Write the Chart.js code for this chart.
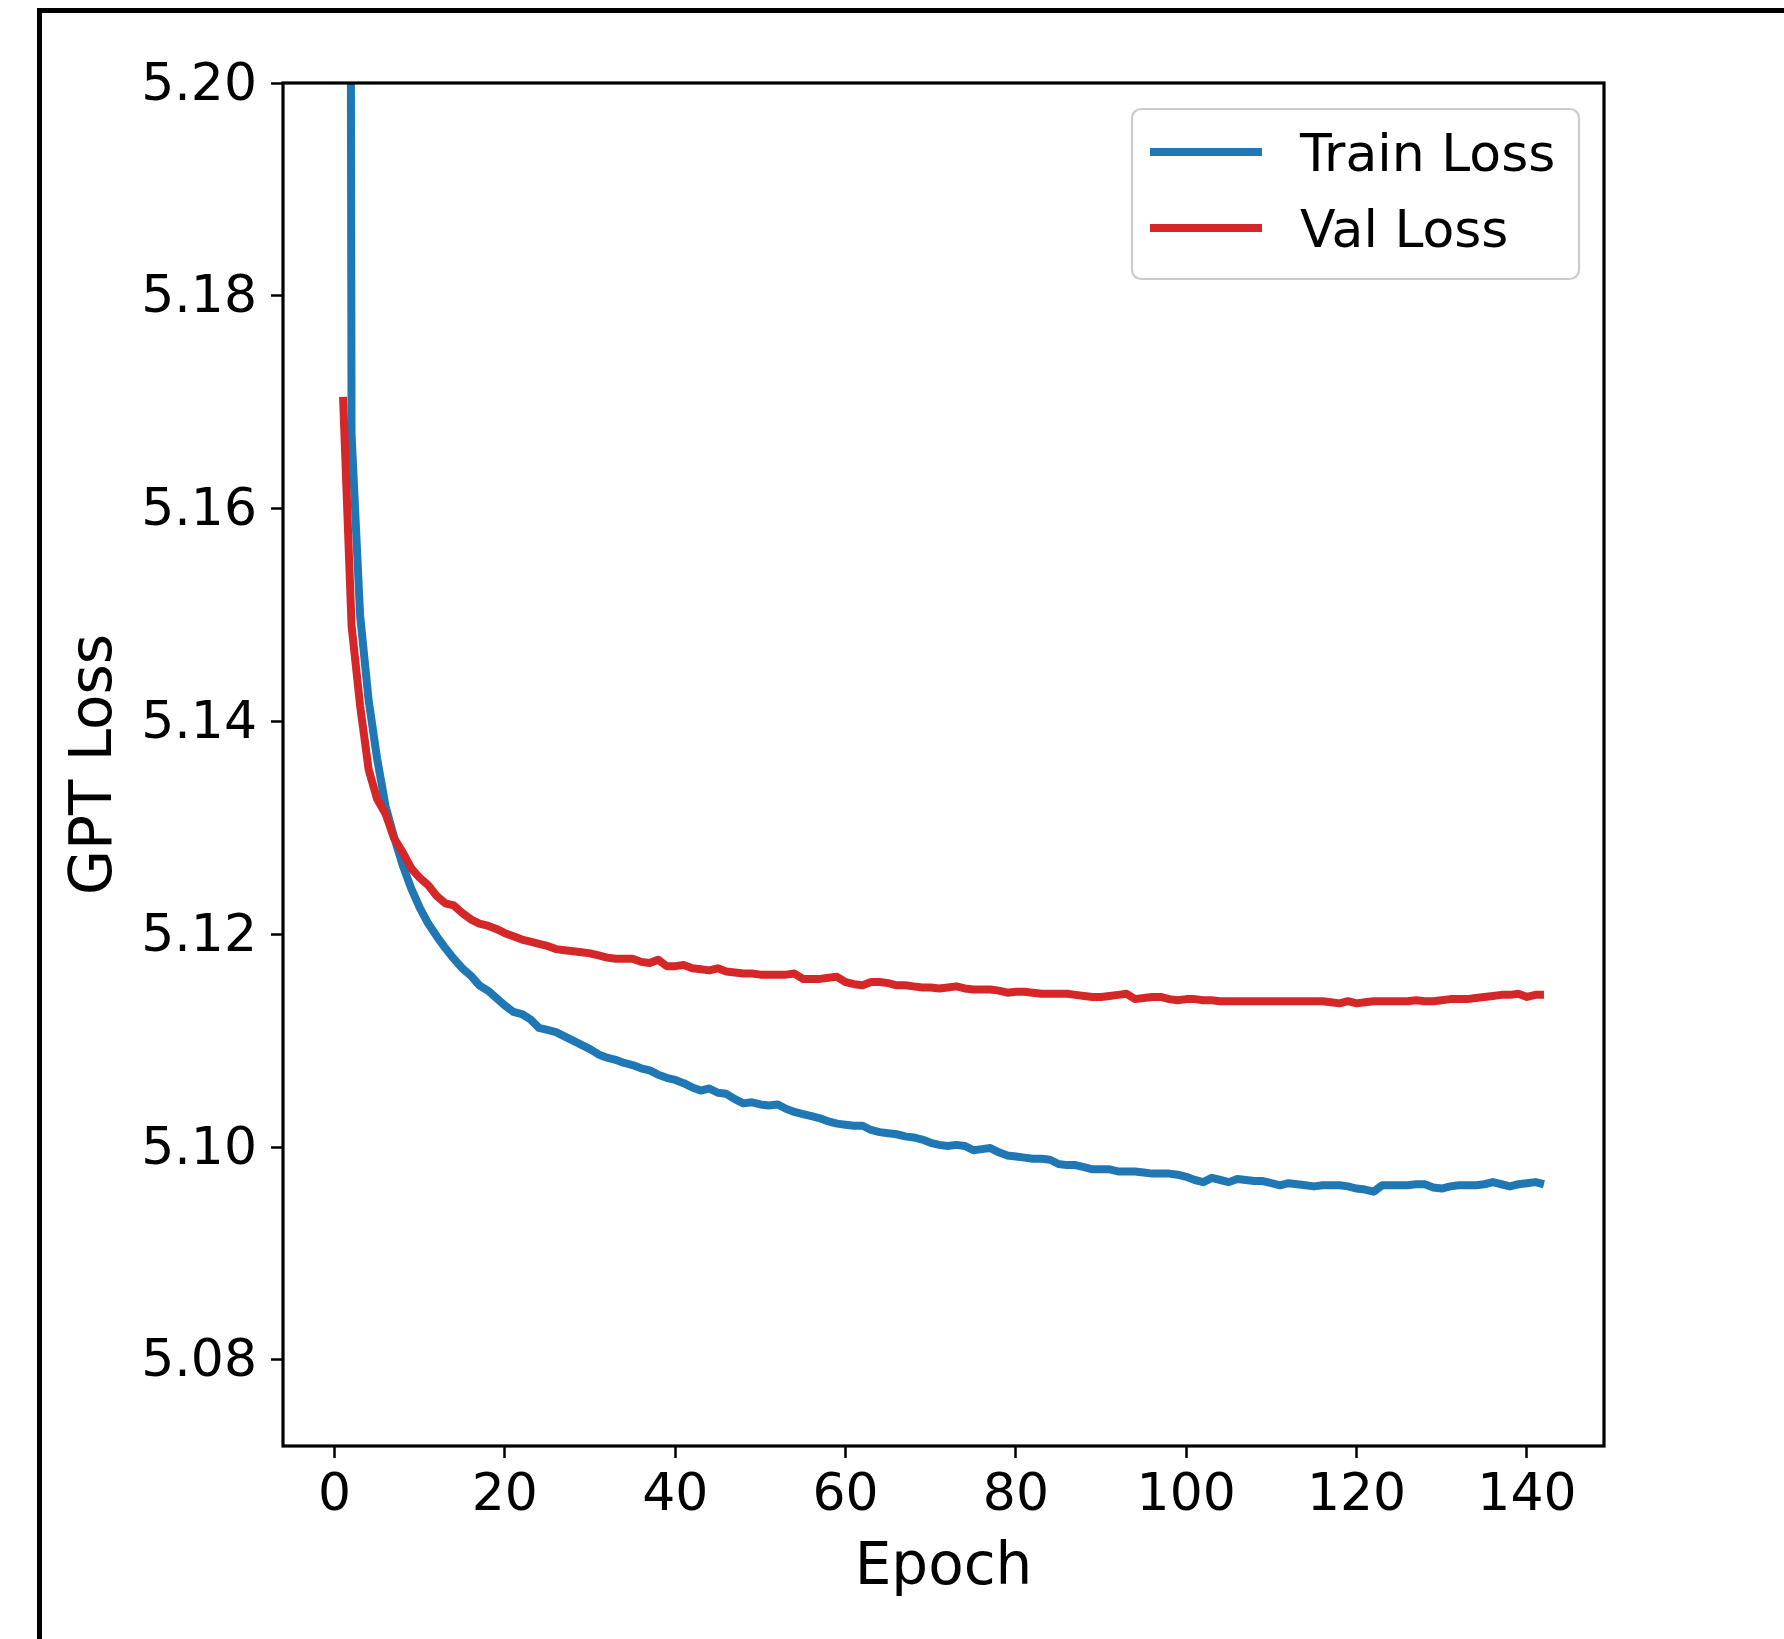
<!DOCTYPE html>
<html><head><meta charset="utf-8">
<script src="https://cdn.jsdelivr.net/npm/chart.js@4.4.1/dist/chart.umd.min.js"></script>
<style>
html,body{margin:0;padding:0;background:#fff;}
#wrap{position:relative;width:1784px;height:1639px;overflow:hidden;}
#frame{position:absolute;left:37px;top:8px;right:-20px;bottom:-20px;border-top:5px solid #000;border-left:5px solid #000;}
canvas{position:absolute;left:0;top:0;}
</style></head><body>
<div id="wrap"><div id="frame"></div><canvas id="c" width="1784" height="1639"></canvas></div>
<script>
const epochs = [1,2,3,4,5,6,7,8,9,10,11,12,13,14,15,16,17,18,19,20,21,22,23,24,25,26,27,28,29,30,
31,32,33,34,35,36,37,38,39,40,41,42,43,44,45,46,47,48,49,50,51,52,53,54,55,56,57,58,59,60,
61,62,63,64,65,66,67,68,69,70,71,72,73,74,75,76,77,78,79,80,81,82,83,84,85,86,87,88,89,90,
91,92,93,94,95,96,97,98,99,100,101,102,103,104,105,106,107,108,109,110,111,112,113,114,115,116,117,118,119,120,
121,122,123,124,125,126,127,128,129,130,131,132,133,134,135,136,137,138,139,140,141,142];

const trainLoss = [5.600,5.167,5.150,5.142,5.1365,5.1320,5.1291,5.1265,5.1243,5.1225,
5.1210,5.1198,5.1187,5.1177,5.1168,5.1161,5.1152,5.1147,5.1140,5.1133,
5.1127,5.1125,5.1120,5.1112,5.1110,5.1108,5.1104,5.1100,5.1096,5.1092,
5.1087,5.1084,5.1082,5.1079,5.1077,5.1074,5.1072,5.1068,5.1065,5.1063,
5.1060,5.1056,5.1053,5.1055,5.1051,5.1050,5.1045,5.1041,5.1042,5.1040,
5.1039,5.1040,5.1036,5.1033,5.1031,5.1029,5.1027,5.1024,5.1022,5.1021,
5.1020,5.1020,5.1016,5.1014,5.1013,5.1012,5.1010,5.1009,5.1007,5.1004,
5.1002,5.1001,5.1002,5.1001,5.0997,5.0998,5.0999,5.0995,5.0992,5.0991,
5.0990,5.0989,5.0989,5.0988,5.0984,5.0983,5.0983,5.0981,5.0979,5.0979,
5.0979,5.0977,5.0977,5.0977,5.0976,5.0975,5.0975,5.0975,5.0974,5.0972,
5.0969,5.0967,5.0971,5.0969,5.0967,5.0970,5.0969,5.0968,5.0968,5.0966,
5.0964,5.0966,5.0965,5.0964,5.0963,5.0964,5.0964,5.0964,5.0963,5.0961,
5.0960,5.0958,5.0964,5.0964,5.0964,5.0964,5.0965,5.0965,5.0962,5.0961,
5.0963,5.0964,5.0964,5.0964,5.0965,5.0967,5.0965,5.0963,5.0965,5.0966,
5.0967,5.0965];

const valLoss = [5.1705,5.1490,5.1415,5.1355,5.1327,5.1313,5.1290,5.1277,5.1262,5.1253,
5.1246,5.1236,5.1229,5.1227,5.1220,5.1214,5.1210,5.1208,5.1205,5.1201,
5.1198,5.1195,5.1193,5.1191,5.1189,5.1186,5.1185,5.1184,5.1183,5.1182,
5.1180,5.1178,5.1177,5.1177,5.1177,5.1174,5.1173,5.1176,5.1170,5.1170,
5.1171,5.1168,5.1167,5.1166,5.1168,5.1165,5.1164,5.1163,5.1163,5.1162,
5.1162,5.1162,5.1162,5.1163,5.1158,5.1158,5.1158,5.1159,5.1160,5.1155,
5.1153,5.1152,5.1155,5.1155,5.1154,5.1152,5.1152,5.1151,5.1150,5.1150,
5.1149,5.1150,5.1151,5.1149,5.1148,5.1148,5.1148,5.1147,5.1145,5.1146,
5.1146,5.1145,5.1144,5.1144,5.1144,5.1144,5.1143,5.1142,5.1141,5.1141,
5.1142,5.1143,5.1144,5.1139,5.1140,5.1141,5.1141,5.1139,5.1138,5.1139,
5.1139,5.1138,5.1138,5.1137,5.1137,5.1137,5.1137,5.1137,5.1137,5.1137,
5.1137,5.1137,5.1137,5.1137,5.1137,5.1137,5.1136,5.1135,5.1137,5.1135,
5.1136,5.1137,5.1137,5.1137,5.1137,5.1137,5.1138,5.1137,5.1137,5.1138,
5.1139,5.1139,5.1139,5.1140,5.1141,5.1142,5.1143,5.1143,5.1144,5.1141,
5.1143,5.1143];

const seriesNames = ['Train Loss', 'Val Loss'];
const seriesColors = ['#1f77b4', '#d62728'];
const xTicks = [0, 20, 40, 60, 80, 100, 120, 140];
const yTicks = [5.08, 5.10, 5.12, 5.14, 5.16, 5.18, 5.20];
const xLabel = 'Epoch';
const yLabel = 'GPT Loss';

const FONT = '"DejaVu Sans", "Liberation Sans", sans-serif';

const spines = {
  id: 'spines',
  afterDatasetsDraw(chart) {
    const ctx = chart.ctx, a = chart.chartArea;
    ctx.save();
    ctx.strokeStyle = '#000';
    ctx.lineWidth = 3.2;
    ctx.strokeRect(a.left, a.top, a.right - a.left, a.bottom - a.top);
    ctx.restore();
  }
};

const legendBox = {
  id: 'legendBox',
  afterDraw(chart) {
    const ctx = chart.ctx, a = chart.chartArea;
    const w = 447, h = 170;
    const x = a.right - 25 - w, y = a.top + 26;
    ctx.save();
    ctx.beginPath();
    ctx.roundRect(x, y, w, h, 9);
    ctx.fillStyle = 'rgba(255,255,255,0.8)';
    ctx.fill();
    ctx.lineWidth = 2.2;
    ctx.strokeStyle = '#cccccc';
    ctx.stroke();
    chart.data.datasets.forEach((ds, i) => {
      const ly = y + 43 + i * 76;
      ctx.beginPath();
      ctx.moveTo(x + 18, ly);
      ctx.lineTo(x + 130, ly);
      ctx.strokeStyle = ds.borderColor;
      ctx.lineWidth = ds.borderWidth;
      ctx.lineCap = 'butt';
      ctx.stroke();
      ctx.fillStyle = '#000';
      ctx.font = '52px ' + FONT;
      ctx.textAlign = 'left';
      ctx.textBaseline = 'alphabetic';
      ctx.fillText(ds.label, x + 168, ly + 19);
    });
    ctx.restore();
  }
};

new Chart(document.getElementById('c').getContext('2d'), {
  type: 'line',
  data: {
    labels: epochs,
    datasets: [
      { label: seriesNames[0], data: trainLoss, borderColor: seriesColors[0], backgroundColor: seriesColors[0],
        borderWidth: 8, pointRadius: 0, tension: 0, clip: 0, order: 1, borderJoinStyle: 'round', fill: false },
      { label: seriesNames[1], data: valLoss, borderColor: seriesColors[1], backgroundColor: seriesColors[1],
        borderWidth: 8, pointRadius: 0, tension: 0, clip: 0, order: 0, borderJoinStyle: 'round', fill: false }
    ]
  },
  options: {
    responsive: false,
    animation: false,
    devicePixelRatio: 1,
    events: [],
    layout: { padding: { left: 0, top: 83, right: 180, bottom: 0 } },
    plugins: { legend: { display: false }, tooltip: { enabled: false } },
    scales: {
      x: {
        type: 'linear',
        min: -6.05, max: 149.05,
        afterFit(s) { s.height = 193; },
        afterBuildTicks(s) { s.ticks = xTicks.map(v => ({ value: v })); },
        border: { display: false },
        grid: { display: true, drawOnChartArea: false, drawTicks: true, tickLength: 12, tickWidth: 2.5, tickColor: '#000' },
        ticks: { color: '#000', font: { family: FONT, size: 52, lineHeight: 1 }, padding: 12, maxRotation: 0, autoSkip: false,
                 callback: v => String(v) },
        title: { display: true, text: xLabel, color: '#000', font: { family: FONT, size: 58, lineHeight: 1 }, padding: { top: 0, bottom: 41 } }
      },
      y: {
        type: 'linear',
        min: 5.0719, max: 5.20,
        afterFit(s) { s.width = 283; },
        afterBuildTicks(s) { s.ticks = yTicks.map(v => ({ value: v })); },
        border: { display: false },
        grid: { display: true, drawOnChartArea: false, drawTicks: true, tickLength: 12, tickWidth: 2.5, tickColor: '#000' },
        ticks: { color: '#000', font: { family: FONT, size: 52, lineHeight: 1 }, padding: 14, labelOffset: 3, autoSkip: false,
                 callback: v => Number(v).toFixed(2) },
        title: { display: true, text: yLabel, color: '#000', font: { family: FONT, size: 58, lineHeight: 1 }, padding: { top: 66.5, bottom: 0 } }
      }
    }
  },
  plugins: [spines, legendBox]
});
</script>
</body></html>
